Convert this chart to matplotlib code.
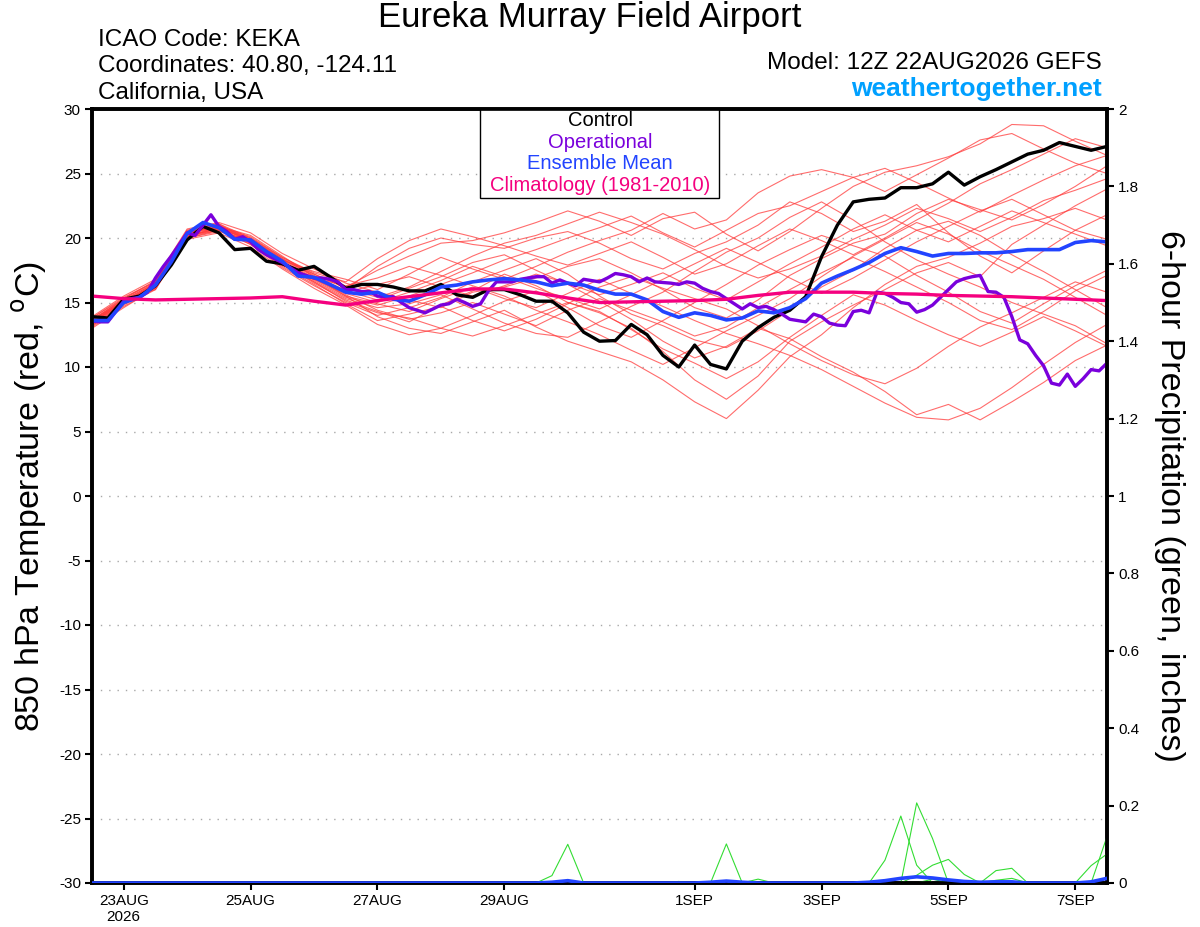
import numpy as np
import pandas as pd
import matplotlib
matplotlib.use("Agg")
import matplotlib.pyplot as plt
from matplotlib.patches import Rectangle

plt.rcParams['font.family'] = ['Liberation Sans', 'DejaVu Sans']
plt.rcParams['axes.unicode_minus'] = False

# run time and output steps (GEFS 6-hourly, operational 3-hourly)
run_time = pd.Timestamp('2026-08-22 12:00')
hours6 = np.arange(65) * 6
hours3 = np.arange(129) * 3
hours12 = np.arange(33) * 12

# 850 hPa temperature, deg C
control = [13.9, 13.8, 15.25, 15.5, 16.3, 17.9, 19.85, 20.9, 20.4, 19.1, 19.2, 18.2, 18.0,
           17.5, 17.8, 17.0, 16.1, 16.4, 16.4, 16.2, 15.9, 15.9, 16.4, 15.6, 15.4, 16.0,
           16.0, 15.6, 15.1, 15.1, 14.2, 12.7, 12.0, 12.05, 13.3, 12.5, 10.9, 10.0, 11.7,
           10.2, 9.85, 12.0, 13.05, 13.85, 14.4, 15.45, 18.55, 21.0, 22.8, 23.0, 23.1, 23.9,
           23.9, 24.2, 25.1, 24.1, 24.75, 25.3, 25.9, 26.5, 26.8, 27.4, 27.1, 26.8, 27.1]

operational = [13.55, 13.5, 13.5, 14.3, 15.1, 15.3, 15.4, 15.8, 16.9, 17.8, 18.6, 19.5, 20.4,
               20.2, 21.0, 21.8, 20.9, 20.5, 19.9, 20.1, 19.7, 19.1, 18.7, 18.4, 18.1, 17.7,
               17.3, 17.1, 16.9, 16.9, 16.8, 16.6, 16.0, 16.0, 15.85, 15.85, 15.5, 15.45,
               15.45, 15.0, 14.6, 14.4, 14.2, 14.5, 14.8, 14.9, 15.25, 15.0, 14.7, 14.9, 15.9,
               16.6, 16.6, 16.6, 16.8, 16.9, 17.0, 17.0, 16.5, 16.75, 16.5, 16.3, 16.8, 16.7,
               16.6, 16.9, 17.25, 17.15, 17.0, 16.6, 16.9, 16.6, 16.55, 16.5, 16.4, 16.6, 16.5,
               16.1, 15.85, 15.7, 15.3, 14.9, 14.5, 14.9, 14.6, 14.7, 14.45, 14.1, 13.7, 13.6,
               13.5, 14.1, 13.9, 13.4, 13.25, 13.2, 14.3, 14.4, 14.2, 15.8, 15.7, 15.4, 15.0,
               14.9, 14.25, 14.45, 14.8, 15.4, 16.0, 16.6, 16.85, 17.0, 17.1, 15.85, 15.8, 15.4,
               13.9, 12.1, 11.8, 10.9, 10.1, 8.75, 8.6, 9.45, 8.5, 9.1, 9.8, 9.7, 10.3]

ens_mean = [13.6, 13.6, 15.0, 15.4, 16.35, 18.15, 20.35, 21.2, 20.8, 19.9, 19.85, 18.95, 18.2,
            17.05, 16.95, 16.4, 15.8, 15.65, 15.8, 15.25, 15.1, 15.6, 16.2, 16.35, 16.6, 16.75,
            16.85, 16.75, 16.6, 16.3, 16.5, 16.35, 15.95, 15.65, 15.65, 15.2, 14.3, 13.85, 14.2,
            14.0, 13.65, 13.8, 14.35, 14.2, 14.6, 15.3, 16.5, 17.05, 17.55, 18.1, 18.8, 19.25,
            18.95, 18.6, 18.8, 18.8, 18.85, 18.85, 18.95, 19.1, 19.1, 19.1, 19.65, 19.8, 19.7]

climatology = [15.5, 15.3, 15.2, 15.25, 15.3, 15.35, 15.45, 15.1, 14.8, 15.15, 15.45, 15.75,
               16.05, 16.05, 15.75, 15.35, 15.0, 15.05, 15.1, 15.15, 15.25, 15.55, 15.8, 15.8,
               15.8, 15.7, 15.65, 15.55, 15.5, 15.45, 15.35, 15.25, 15.15]

# ensemble members (12-hourly)
members = [
    [13.4, 15.2, 16.0, 20.1, 20.9, 20.0, 18.5, 17.2, 16.2, 17.5, 18.6, 19.6, 19.8, 20.4, 21.2, 22.1, 21.3,
     20.2, 21.5, 22.0, 20.3, 19.0, 20.5, 22.3, 24.0, 25.1, 25.6, 26.3, 27.3, 28.8, 28.7, 27.5, 26.4],
    [13.2, 14.9, 16.5, 20.6, 21.0, 19.6, 18.0, 16.5, 15.2, 14.3, 13.5, 14.8, 15.9, 17.2, 16.3, 15.0, 14.2,
     13.0, 11.2, 9.0, 7.5, 9.3, 12.0, 13.5, 14.8, 16.0, 17.3, 18.1, 17.0, 19.5, 21.0, 22.5, 23.8],
    [13.8, 15.4, 16.6, 20.5, 20.7, 19.9, 18.3, 17.4, 16.8, 16.0, 17.2, 18.5, 17.6, 16.8, 17.8, 18.9, 19.8,
     20.6, 21.9, 20.7, 21.4, 23.5, 24.8, 25.3, 24.7, 23.6, 24.9, 26.2, 27.6, 28.1, 26.9, 25.8, 25.0],
    [13.0, 14.6, 16.1, 20.0, 20.5, 19.8, 18.1, 16.6, 15.3, 14.6, 14.9, 15.6, 14.5, 13.4, 12.6, 12.3, 13.5,
     14.7, 15.8, 17.4, 18.9, 20.0, 21.6, 22.8, 21.4, 19.7, 18.3, 17.2, 16.2, 15.0, 14.1, 13.2, 11.8],
    [13.5, 15.1, 16.4, 20.4, 20.9, 20.2, 18.6, 17.0, 15.5, 13.9, 13.0, 12.6, 13.5, 14.4, 13.1, 12.0, 11.2,
     10.4, 9.0, 7.3, 6.0, 8.2, 10.8, 12.5, 14.6, 16.4, 17.8, 18.5, 19.6, 20.9, 21.5, 22.3, 21.4],
    [13.7, 15.0, 16.3, 20.3, 21.1, 19.7, 17.9, 16.8, 16.0, 17.8, 19.2, 20.0, 19.5, 19.2, 20.0, 20.5, 19.6,
     18.4, 17.6, 18.8, 19.7, 21.0, 22.8, 21.9, 20.5, 21.3, 22.6, 20.4, 18.6, 17.3, 19.0, 20.6, 21.8],
    [13.3, 15.0, 16.2, 20.2, 20.6, 19.5, 17.7, 16.3, 15.0, 14.0, 14.6, 15.4, 16.6, 17.5, 18.4, 17.2, 15.5,
     14.1, 13.2, 12.1, 11.5, 12.8, 14.4, 16.2, 17.5, 19.2, 20.6, 21.3, 20.2, 18.7, 17.4, 16.0, 14.6],
    [13.6, 15.3, 16.7, 20.5, 20.8, 19.9, 18.4, 17.1, 15.9, 15.2, 16.1, 17.0, 18.1, 18.7, 17.5, 16.4, 15.1,
     13.7, 12.0, 10.7, 11.6, 13.0, 12.2, 10.8, 9.6, 8.1, 6.3, 7.1, 5.9, 7.3, 8.8, 10.5, 11.7],
    [13.9, 15.5, 16.8, 20.7, 21.2, 20.4, 18.8, 17.6, 16.5, 15.8, 15.2, 14.6, 15.8, 16.2, 16.9, 17.8, 18.4,
     17.3, 16.0, 14.6, 13.8, 15.2, 17.1, 18.4, 19.6, 20.3, 21.9, 23.0, 22.2, 21.4, 22.6, 24.0, 25.6],
    [13.1, 14.7, 16.0, 19.9, 20.4, 19.3, 17.6, 16.1, 14.8, 13.3, 12.5, 13.0, 14.0, 15.1, 15.9, 14.6, 13.2,
     12.3, 13.6, 15.0, 16.4, 17.9, 19.1, 20.2, 19.4, 18.6, 17.1, 15.8, 14.3, 13.4, 14.9, 16.3, 17.5],
    [13.5, 14.9, 16.3, 20.2, 20.7, 19.7, 18.0, 16.9, 16.3, 16.9, 17.8, 17.1, 16.3, 15.5, 14.4, 13.5, 12.5,
     11.3, 10.2, 11.5, 12.8, 14.0, 15.3, 17.0, 18.6, 19.9, 21.2, 20.3, 19.0, 17.9, 16.8, 15.4, 14.0],
    [13.7, 15.2, 16.5, 20.4, 20.9, 20.1, 18.5, 17.3, 16.6, 18.4, 19.8, 20.7, 20.1, 19.4, 18.6, 17.9, 18.8,
     19.7, 18.5, 17.2, 18.0, 19.4, 20.7, 19.8, 18.7, 20.0, 21.4, 22.7, 24.2, 25.3, 26.5, 27.7, 27.0],
    [13.2, 14.8, 16.2, 20.0, 20.6, 19.6, 17.8, 16.4, 14.9, 13.6, 14.1, 14.7, 13.6, 12.8, 13.7, 14.9, 16.2,
     17.0, 16.1, 15.3, 14.5, 13.2, 11.8, 10.5, 9.4, 8.7, 9.9, 11.6, 13.1, 14.2, 15.4, 16.6, 15.8],
    [13.6, 15.1, 16.4, 20.5, 21.0, 19.9, 18.2, 16.7, 15.4, 14.8, 15.5, 16.4, 17.3, 18.3, 19.1, 20.0, 20.8,
     21.7, 20.4, 19.3, 20.6, 21.9, 22.5, 23.6, 24.7, 25.4, 24.3, 23.1, 22.0, 23.3, 24.5, 25.6, 26.4],
    [13.4, 15.0, 16.1, 20.1, 20.8, 19.8, 18.3, 16.9, 15.6, 14.4, 13.7, 14.2, 15.0, 14.1, 13.2, 14.4, 15.3,
     14.4, 13.5, 12.4, 13.1, 14.6, 16.0, 17.3, 18.5, 17.4, 16.2, 15.0, 13.6, 12.9, 14.3, 15.9, 17.1],
    [13.8, 15.3, 16.6, 20.6, 21.1, 20.0, 18.4, 17.0, 15.8, 16.4, 17.0, 16.2, 15.5, 16.3, 17.2, 16.5, 15.6,
     16.4, 17.3, 16.1, 15.2, 16.6, 18.0, 19.3, 20.7, 21.8, 20.6, 19.7, 20.9, 22.1, 21.2, 20.3, 19.4],
    [13.3, 14.9, 16.3, 20.2, 20.7, 19.5, 17.9, 16.6, 15.1, 14.2, 13.8, 13.0, 12.4, 13.2, 14.1, 15.0, 14.3,
     12.9, 11.4, 10.3, 9.1, 10.4, 12.3, 14.0, 15.6, 14.8, 13.6, 12.5, 11.6, 12.7, 13.9, 12.8, 11.6],
    [13.6, 15.2, 16.5, 20.3, 20.8, 19.8, 18.3, 17.2, 16.1, 15.4, 16.2, 17.4, 18.6, 19.6, 20.2, 21.1, 22.0,
     21.2, 20.3, 19.1, 17.8, 16.9, 17.6, 18.6, 19.9, 21.0, 22.3, 21.5, 20.5, 21.6, 22.9, 23.7, 24.6],
    [13.5, 15.0, 16.4, 20.4, 20.9, 19.9, 18.2, 16.8, 15.5, 14.9, 14.3, 15.3, 16.2, 15.3, 14.6, 15.7, 16.8,
     15.7, 14.7, 13.6, 12.6, 11.8, 10.9, 9.8, 8.5, 7.2, 6.1, 5.9, 6.8, 8.4, 10.2, 11.9, 13.3],
    [13.4, 15.1, 16.2, 20.1, 20.6, 19.7, 18.1, 16.8, 15.7, 15.0, 15.8, 16.7, 17.8, 17.0, 16.1, 15.3, 14.5,
     15.6, 16.8, 18.0, 19.2, 18.1, 16.9, 15.7, 16.9, 18.3, 19.7, 20.9, 22.1, 23.0, 21.8, 20.6, 19.9],
]

# 6-hour precipitation (inches): (step, amount) where non-zero
precip_members = [
    [(29, 0.019), (30, 0.10)],
    [(37, 0.004)],
    [(40, 0.101), (42, 0.01)],
    [(50, 0.059), (51, 0.173), (52, 0.046)],
    [(52, 0.207), (53, 0.115)],
    [(52, 0.02), (53, 0.046), (54, 0.061), (55, 0.022)],
    [(57, 0.032), (58, 0.038)],
    [(53, 0.01), (57, 0.007), (58, 0.012)],
    [(63, 0.045), (64, 0.075)],
    [(64, 0.12)],
]
precip_mean = [(29, 0.002), (30, 0.006), (39, 0.002), (40, 0.005), (41, 0.002), (49, 0.002),
               (50, 0.006), (51, 0.012), (52, 0.016), (53, 0.013), (54, 0.008), (55, 0.004),
               (56, 0.002), (57, 0.003), (58, 0.003), (63, 0.003), (64, 0.012)]

tick_days = ['2026-08-23', '2026-08-25', '2026-08-27', '2026-08-29',
             '2026-09-01', '2026-09-03', '2026-09-05', '2026-09-07']


def fill_steps(pairs):
    arr = np.zeros(len(hours6))
    for step, val in pairs:
        arr[step] = val
    return arr


fig = plt.figure(figsize=(12, 9.27), dpi=100)
ax = fig.add_axes([92 / 1200, 44 / 927, 1015 / 1200, 774 / 927])

for v in range(-25, 26, 5):
    ax.axhline(v, color='#a8a8a8', lw=1, ls=(0, (1, 5)), zorder=0.5)

for m in members:
    ax.plot(hours12, m, color='#ff3b3b', lw=0.8, alpha=0.75, zorder=1)
ax.plot(hours6, control, color='black', lw=2.4, zorder=3)
ax.plot(hours3, operational, color='#7a00dc', lw=2.4, zorder=4)
ax.plot(hours6, ens_mean, color='#2244ff', lw=2.6, zorder=5)
ax.plot(hours12, climatology, color='#f5007f', lw=2.4, zorder=6)

ax.set_xlim(0, 384)
ax.set_ylim(-30, 30)
ax.set_yticks(range(-30, 31, 5))

tick_pos = [(pd.Timestamp(d) - run_time) / pd.Timedelta(hours=1) for d in tick_days]
tick_lab = [f"{pd.Timestamp(d).day}{pd.Timestamp(d).strftime('%b').upper()}" for d in tick_days]
tick_lab[0] += '\n2026'
ax.set_xticks(tick_pos)
ax.set_xticklabels(tick_lab)
ax.tick_params(direction='out', length=5, width=1.5, labelsize=11, pad=3)

for s in ax.spines.values():
    s.set_linewidth(2.6)

# precipitation on the right axis
ax2 = ax.twinx()
for pm in precip_members:
    ax2.plot(hours6, fill_steps(pm), color='#33dd33', lw=0.8, zorder=2)
ax2.plot(hours6, fill_steps(precip_mean), color='#2244ff', lw=2.6, zorder=3)
ax2.set_ylim(0, 2)
ax2.set_xlim(0, 384)
ax2.set_yticks(np.arange(0, 2.01, 0.2))
ax2.set_yticklabels([f"{v:g}" for v in np.arange(0, 2.01, 0.2).round(1)])
ax2.tick_params(direction='out', length=5, width=1.5, labelsize=11, pad=3)
for s in ax2.spines.values():
    s.set_linewidth(2.6)

# legend box
ax.add_patch(Rectangle((0.3823, 0.885), 0.2354, 0.115, transform=ax.transAxes,
                       facecolor='white', edgecolor='black', lw=1, zorder=10))
leg_items = [('Control', 'black'), ('Operational', '#7a00dc'),
             ('Ensemble Mean', '#2244ff'), ('Climatology (1981-2010)', '#f5007f')]
for k, (lab, col) in enumerate(leg_items):
    ax.text(0.5005, 0.9845 - k * 0.0276, lab, color=col, fontsize=14.5,
            ha='center', va='center', transform=ax.transAxes, zorder=11)

# headers
fig.text(590 / 1200, 1 - 18 / 927, 'Eureka Murray Field Airport', ha='center', va='center', fontsize=25)
fig.text(98 / 1200, 1 - 40 / 927, 'ICAO Code: KEKA', va='center', fontsize=17.5)
fig.text(98 / 1200, 1 - 66 / 927, 'Coordinates: 40.80, -124.11', va='center', fontsize=17.5)
fig.text(98 / 1200, 1 - 93 / 927, 'California, USA', va='center', fontsize=17.5)
fig.text(1102 / 1200, 1 - 63 / 927, 'Model: 12Z 22AUG2026 GEFS', ha='right', va='center', fontsize=17.5)
fig.text(1102 / 1200, 1 - 89 / 927, 'weathertogether.net', ha='right', va='center',
         fontsize=19, fontweight='bold', color='#00a0ff')

fig.text(30 / 1200, 1 - 496 / 927, '850 hPa Temperature (red, $^{\\mathrm{o}}$C)',
         rotation=90, ha='center', va='center', fontsize=24.5)
fig.text(1170 / 1200, 1 - 496 / 927, '6-hour Precipitation (green, inches)',
         rotation=-90, ha='center', va='center', fontsize=24.5)

fig.savefig('out.png', dpi=100)
